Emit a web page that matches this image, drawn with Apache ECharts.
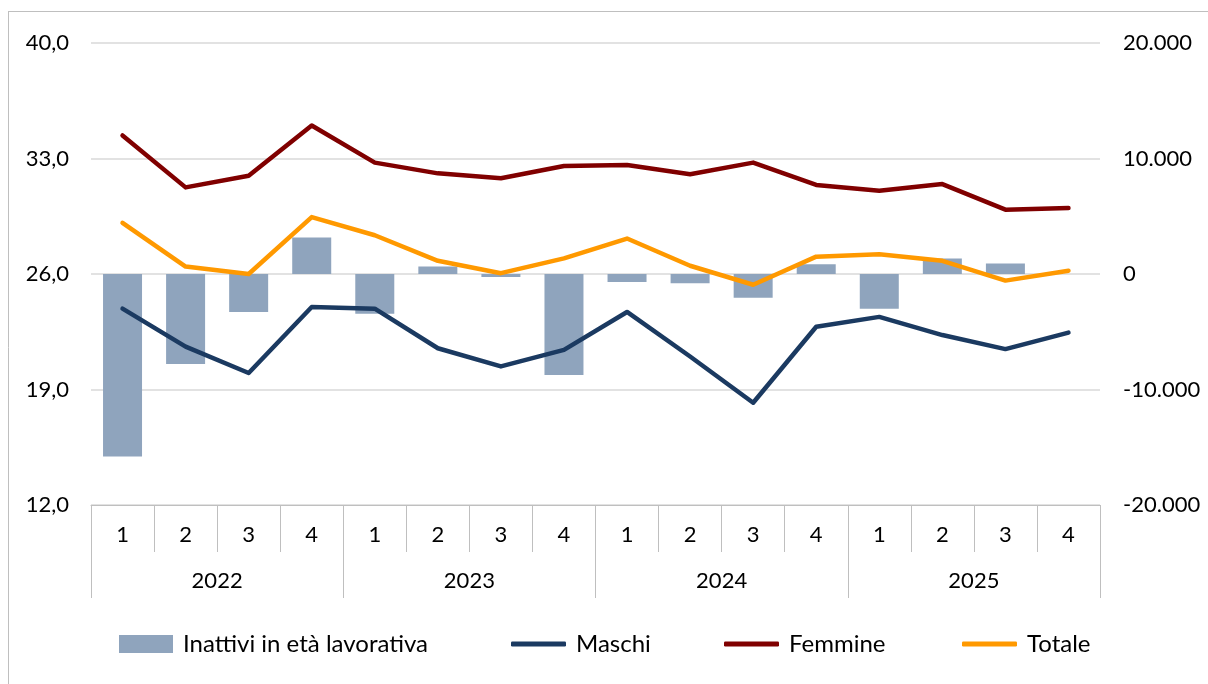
<!DOCTYPE html>
<html>
<head>
<meta charset="utf-8">
<script src="https://cdn.jsdelivr.net/npm/echarts@6/dist/echarts.min.js"></script>
<style>
html,body{margin:0;padding:0;background:#fff;}
#chart{width:1208px;height:684px;}
</style>
</head>
<body>
<div id="chart"></div>
<script>
// ---- data ----
var quarters = ['1','2','3','4','1','2','3','4','1','2','3','4','1','2','3','4'];
var years = ['2022','2023','2024','2025'];
var inattivi = [-15800, -7800, -3300, 3150, -3450, 650, -260, -8750, -700, -800, -2050, 850, -3000, 1350, 900, 0];
var maschi = [23.9, 21.6, 20.0, 24.0, 23.9, 21.5, 20.4, 21.4, 23.7, 21.0, 18.2, 22.8, 23.4, 22.3, 21.45, 22.45];
var femmine = [34.4, 31.25, 31.95, 35.0, 32.75, 32.1, 31.8, 32.55, 32.6, 32.05, 32.75, 31.4, 31.05, 31.45, 29.9, 30.0];
var totale = [29.1, 26.45, 26.0, 29.45, 28.35, 26.8, 26.05, 26.95, 28.15, 26.5, 25.35, 27.05, 27.2, 26.8, 25.6, 26.2];
var leftTicks = {min: 12, max: 40, interval: 7};
var rightTicks = {min: -20000, max: 20000, interval: 10000};

var FONT = 'Lato';
var chart = echarts.init(document.getElementById('chart'), null, {renderer: 'canvas'});

function fmtThousands(v) {
  var s = String(Math.abs(v)).replace(/\B(?=(\d{3})+(?!\d))/g, '.');
  return (v < 0 ? '-' : '') + s;
}

var legendText = {fontFamily: FONT, fontSize: 24, color: '#000', padding: [0, 0, 0, 5]};
var axisFont = {fontFamily: FONT, fontSize: 22, color: '#000'};

var option = {
  backgroundColor: '#fff',
  animation: false,
  textStyle: {fontFamily: FONT},
  graphic: [
    {type: 'line', shape: {x1: 8.5, y1: 11, x2: 8.5, y2: 684}, style: {stroke: '#bfbfbf', lineWidth: 1}},
    {type: 'line', shape: {x1: 8, y1: 11.5, x2: 1208, y2: 11.5}, style: {stroke: '#bfbfbf', lineWidth: 1}}
  ],
  legend: [
    {data: ['Inattivi in età lavorativa'], left: 119, top: 632, padding: 0, itemWidth: 54, itemHeight: 18, icon: 'rect', textStyle: legendText},
    {data: ['Maschi'], left: 511, top: 632, padding: 0, itemWidth: 55, itemHeight: 5, icon: 'roundRect', textStyle: legendText},
    {data: ['Femmine'], left: 724, top: 632, padding: 0, itemWidth: 55, itemHeight: 5, icon: 'roundRect', textStyle: legendText},
    {data: ['Totale'], left: 962, top: 632, padding: 0, itemWidth: 55, itemHeight: 5, icon: 'roundRect', textStyle: legendText}
  ],
  grid: {left: 91, right: 108, top: 43, bottom: 179, containLabel: false},
  xAxis: [
    {
      type: 'category', data: quarters, position: 'bottom', offset: 0,
      axisLine: {show: true, onZero: false, lineStyle: {color: '#bfbfbf', width: 1}},
      axisTick: {show: true, interval: 0, length: 47, lineStyle: {color: '#bfbfbf', width: 1}},
      axisLabel: Object.assign({interval: 0, margin: 19}, axisFont),
      splitLine: {show: false}
    },
    {
      type: 'category', data: years, position: 'bottom', offset: 0,
      axisLine: {show: false, onZero: false},
      axisTick: {show: true, interval: 0, length: 93, lineStyle: {color: '#bfbfbf', width: 1}},
      axisLabel: Object.assign({interval: 0, margin: 65}, axisFont),
      splitLine: {show: false}
    }
  ],
  yAxis: [
    {
      type: 'value', position: 'left', min: leftTicks.min, max: leftTicks.max, interval: leftTicks.interval,
      axisLine: {show: false}, axisTick: {show: false},
      axisLabel: Object.assign({margin: 22,
        formatter: function (v) { return v.toFixed(1).replace('.', ','); }}, axisFont),
      splitLine: {show: true, lineStyle: {color: '#d9d9d9', width: 1.5}}
    },
    {
      type: 'value', position: 'right', min: rightTicks.min, max: rightTicks.max, interval: rightTicks.interval,
      axisLine: {show: false}, axisTick: {show: false},
      axisLabel: Object.assign({margin: 23, formatter: fmtThousands}, axisFont),
      splitLine: {show: false}
    }
  ],
  series: [
    {
      name: 'Inattivi in età lavorativa', type: 'bar', xAxisIndex: 0, yAxisIndex: 1,
      data: inattivi, barWidth: 39, z: 1,
      itemStyle: {color: '#8fa4bd'}
    },
    {
      name: 'Maschi', type: 'line', xAxisIndex: 0, yAxisIndex: 0, data: maschi,
      showSymbol: false, symbol: 'none', z: 3,
      lineStyle: {color: '#1b3a61', width: 4.5, cap: 'round', join: 'round'},
      itemStyle: {color: '#1b3a61'}
    },
    {
      name: 'Femmine', type: 'line', xAxisIndex: 0, yAxisIndex: 0, data: femmine,
      showSymbol: false, symbol: 'none', z: 3,
      lineStyle: {color: '#800000', width: 4.5, cap: 'round', join: 'round'},
      itemStyle: {color: '#800000'}
    },
    {
      name: 'Totale', type: 'line', xAxisIndex: 0, yAxisIndex: 0, data: totale,
      showSymbol: false, symbol: 'none', z: 3,
      lineStyle: {color: '#ff9900', width: 4.5, cap: 'round', join: 'round'},
      itemStyle: {color: '#ff9900'}
    }
  ]
};
chart.setOption(option);
</script>
</body>
</html>
